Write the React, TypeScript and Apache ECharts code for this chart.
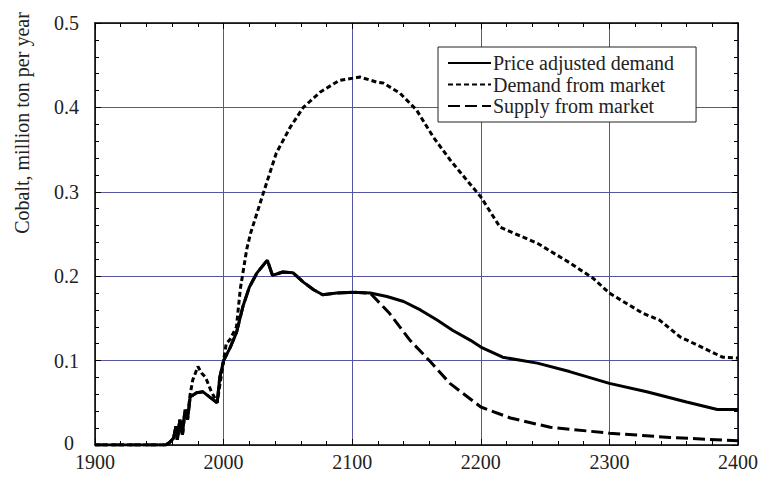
import React, { useEffect, useRef } from "react";
import * as echarts from "echarts";

// Price adjusted demand (solid)
const priceYears = [1900, 1955, 1958, 1961, 1963, 1964, 1966, 1968, 1970, 1972, 1974, 1979, 1984, 1989, 1995, 1997, 2000, 2005, 2010, 2015, 2020, 2026, 2034, 2038, 2046, 2054, 2062, 2070, 2077, 2088, 2100, 2114, 2127, 2140, 2153, 2166, 2178, 2192, 2200, 2217, 2244, 2269, 2300, 2329, 2360, 2384, 2400];
const priceValues = [0, 0, 0.003, 0.008, 0.022, 0.006, 0.03, 0.012, 0.042, 0.03, 0.057, 0.062, 0.063, 0.057, 0.05, 0.08, 0.1, 0.115, 0.133, 0.164, 0.187, 0.204, 0.219, 0.201, 0.205, 0.204, 0.193, 0.184, 0.178, 0.18, 0.181, 0.18, 0.176, 0.17, 0.16, 0.148, 0.136, 0.124, 0.116, 0.104, 0.097, 0.087, 0.073, 0.063, 0.051, 0.042, 0.042];

// Demand from market (dotted)
const demandYears = [1900, 1955, 1958, 1961, 1963, 1964, 1966, 1968, 1970, 1972, 1974, 1976, 1980, 1983, 1986, 1990, 1995, 1998, 2002, 2005, 2010, 2013, 2018, 2021, 2031, 2041, 2052, 2062, 2075, 2090, 2106, 2119, 2124, 2137, 2150, 2163, 2176, 2189, 2200, 2215, 2244, 2269, 2287, 2300, 2326, 2339, 2355, 2373, 2388, 2400];
const demandValues = [0, 0, 0.003, 0.008, 0.022, 0.006, 0.03, 0.012, 0.042, 0.035, 0.06, 0.077, 0.093, 0.085, 0.08, 0.065, 0.05, 0.08, 0.12, 0.125, 0.14, 0.185, 0.232, 0.251, 0.299, 0.346, 0.377, 0.4, 0.418, 0.432, 0.436, 0.43, 0.429, 0.417, 0.397, 0.365, 0.338, 0.314, 0.294, 0.258, 0.239, 0.216, 0.198, 0.18, 0.156, 0.148, 0.128, 0.115, 0.104, 0.103];

// Supply from market (dashed)
const supplyYears = [1900, 1955, 1958, 1961, 1963, 1964, 1966, 1968, 1970, 1972, 1974, 1979, 1984, 1989, 1995, 1997, 2000, 2005, 2010, 2015, 2020, 2026, 2034, 2038, 2046, 2054, 2062, 2070, 2077, 2088, 2100, 2114, 2129, 2145, 2160, 2176, 2200, 2223, 2254, 2300, 2347, 2400];
const supplyValues = [0, 0, 0.003, 0.008, 0.022, 0.006, 0.03, 0.012, 0.042, 0.03, 0.057, 0.062, 0.063, 0.057, 0.05, 0.08, 0.1, 0.115, 0.133, 0.164, 0.187, 0.204, 0.219, 0.201, 0.205, 0.204, 0.193, 0.184, 0.178, 0.18, 0.181, 0.18, 0.156, 0.124, 0.1, 0.073, 0.045, 0.032, 0.021, 0.014, 0.009, 0.005];

const seriesNames = ["Price adjusted demand", "Demand from market", "Supply from market"];
const yAxisTitle = "Cobalt, million ton per year";

const FONT = "Liberation Serif";
const GRID_COLOR = "#5555a0";

const pairs = (xs: number[], ys: number[]) => xs.map((x, i) => [x, ys[i]]);

export default function App() {
  const ref = useRef<HTMLDivElement>(null);
  useEffect(() => {
    if (!ref.current) return;
    const chart = echarts.init(ref.current, undefined, { renderer: "svg" });
    const axisCommon = {
      axisLine: { show: true, onZero: false, lineStyle: { color: "#000", width: 1.5 } },
      axisTick: { show: true, inside: true, length: 6, lineStyle: { color: "#000", width: 1 } },
      minorTick: { show: true, splitNumber: 5, length: 4, lineStyle: { color: "#000", width: 1 } },
    };
    chart.setOption({
      animation: false,
      backgroundColor: "#fff",
      grid: { left: 95, right: 25, top: 23, bottom: 32, containLabel: false },
      xAxis: [
        {
          type: "value",
          min: 1900,
          max: 2400,
          interval: 100,
          position: "bottom",
          ...axisCommon,
          axisLabel: {
            color: "#222",
            fontFamily: FONT,
            fontSize: 20,
            margin: 7,
            formatter: (v: number) => String(v),
          },
          splitLine: { show: true, lineStyle: { color: GRID_COLOR, width: 1 } },
        },
        {
          type: "value",
          min: 1900,
          max: 2400,
          interval: 100,
          position: "top",
          ...axisCommon,
          axisLabel: { show: false },
          splitLine: { show: false },
        },
      ],
      yAxis: [
        {
          type: "value",
          min: 0,
          max: 0.5,
          interval: 0.1,
          position: "left",
          ...axisCommon,
          axisLabel: {
            color: "#222",
            fontFamily: FONT,
            fontSize: 20,
            margin: 16,
            formatter: (v: number) => (v === 0 ? "{z|0}" : String(v)),
            rich: {
              z: { color: "#222", fontFamily: FONT, fontSize: 20, padding: [0, 5, 4, 0] },
            },
          },
          splitLine: { show: true, lineStyle: { color: GRID_COLOR, width: 1 } },
        },
        {
          type: "value",
          min: 0,
          max: 0.5,
          interval: 0.1,
          position: "right",
          ...axisCommon,
          axisLabel: { show: false },
          splitLine: { show: false },
        },
      ],
      legend: {
        orient: "vertical",
        left: 438,
        top: 47,
        padding: [6, 22, 6, 9],
        itemWidth: 43,
        itemHeight: 14,
        itemGap: 1.5,
        backgroundColor: "#fff",
        borderColor: "#222",
        borderWidth: 1,
        borderRadius: 0,
        itemStyle: { opacity: 0 },
        textStyle: { color: "#222", fontFamily: FONT, fontSize: 20, padding: [0, 0, 0, -3] },
        data: [seriesNames[0], seriesNames[1], seriesNames[2]],
      },
      graphic: [
        {
          type: "text",
          x: 22,
          y: 123,
          rotation: Math.PI / 2,
          style: {
            text: yAxisTitle,
            fontFamily: FONT,
            fontSize: 20,
            fill: "#222",
            textAlign: "center",
            textVerticalAlign: "middle",
          },
        },
      ],
      series: [
        {
          name: seriesNames[2],
          type: "line",
          data: pairs(supplyYears, supplyValues),
          symbol: "none",
          lineStyle: { color: "#000", width: 3, type: [12, 5] },
          itemStyle: { color: "#000" },
          z: 2,
        },
        {
          name: seriesNames[1],
          type: "line",
          data: pairs(demandYears, demandValues),
          symbol: "none",
          lineStyle: { color: "#000", width: 3, type: [5, 3] },
          itemStyle: { color: "#000" },
          z: 3,
        },
        {
          name: seriesNames[0],
          type: "line",
          data: pairs(priceYears, priceValues),
          symbol: "none",
          lineStyle: { color: "#000", width: 3, type: "solid" },
          itemStyle: { color: "#000" },
          z: 4,
        },
      ],
    });
    return () => chart.dispose();
  }, []);
  return (
    <div
      ref={ref}
      style={{ position: "fixed", left: 0, top: 0, width: 763, height: 477 }}
    />
  );
}
